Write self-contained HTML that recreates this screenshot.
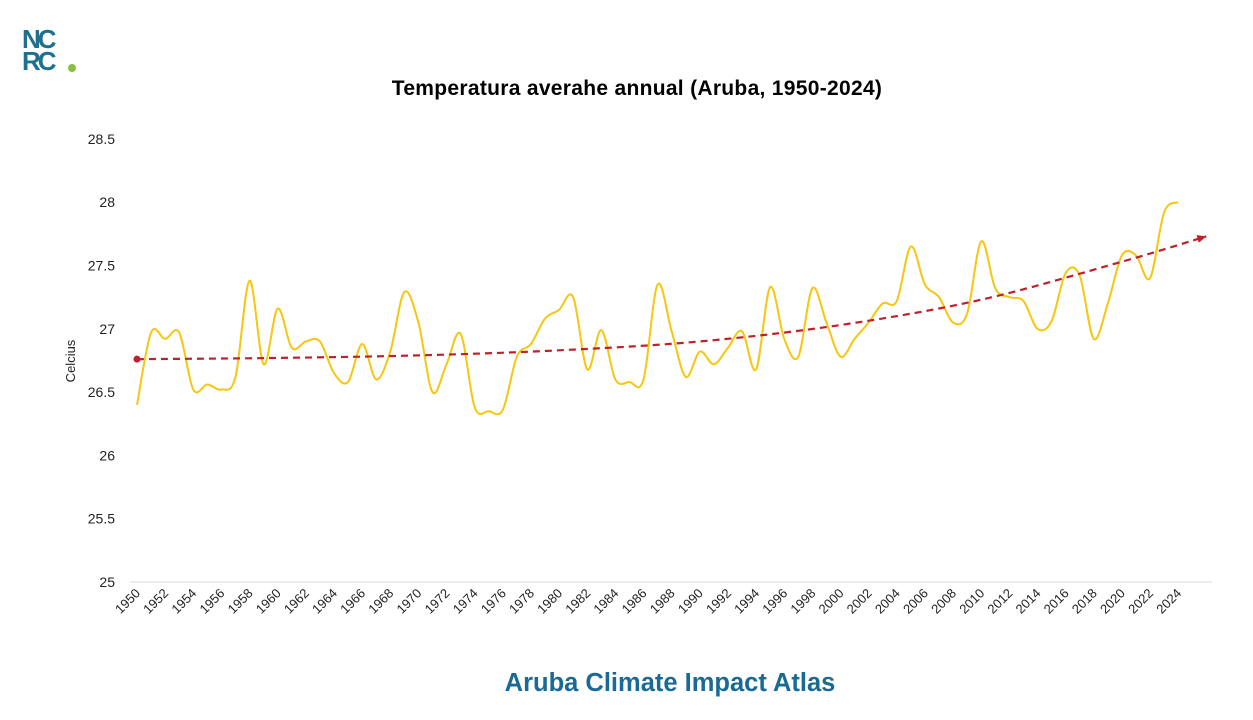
<!DOCTYPE html>
<html><head><meta charset="utf-8"><style>
body{margin:0;background:#fff;font-family:"Liberation Sans",sans-serif}
#wrap{position:relative;width:1253px;height:720px;overflow:hidden}
</style></head><body>
<div id="wrap">
<svg id="chart" width="1253" height="720">
<g>
<text x="22" y="48" font-size="26" font-weight="bold" fill="#1f6f8f" font-family="Liberation Sans,sans-serif" letter-spacing="-3">NC</text>
<text x="22" y="70" font-size="26" font-weight="bold" fill="#1f6f8f" font-family="Liberation Sans,sans-serif" letter-spacing="-3">RC</text>
<circle cx="72" cy="68" r="4" fill="#8cbf3f"/>
</g>
<text x="637" y="95" text-anchor="middle" font-size="21" font-weight="bold" fill="#000" letter-spacing="0.3">Temperatura averahe annual (Aruba, 1950-2024)</text>
<text x="0" y="0" transform="translate(75,361) rotate(-90)" text-anchor="middle" font-size="13" fill="#222">Celcius</text>
<text x="670" y="691" text-anchor="middle" font-size="25.5" font-weight="bold" fill="#1a6a96">Aruba Climate Impact Atlas</text>
<g id="axes"></g><g id="marks"></g>
</svg>
</div>
<script>
const years = [];for(let y=1950;y<=2024;y++)years.push(y);
const temps = [26.4,26.97,26.92,26.97,26.52,26.56,26.52,26.62,27.38,26.72,27.16,26.85,26.9,26.9,26.65,26.58,26.88,26.6,26.82,27.29,27.05,26.5,26.72,26.96,26.38,26.35,26.36,26.78,26.88,27.08,27.15,27.25,26.68,26.99,26.6,26.58,26.6,27.35,26.98,26.62,26.82,26.72,26.85,26.98,26.68,27.33,26.92,26.78,27.32,27.05,26.78,26.92,27.05,27.2,27.22,27.65,27.35,27.25,27.05,27.12,27.69,27.32,27.25,27.22,27.0,27.06,27.44,27.42,26.92,27.2,27.58,27.58,27.4,27.92,28.0];
const trendYears = [1950,1960,1970,1980,1990,2000,2010,2020,2026];
const trendValues = [26.76,26.77,26.79,26.83,26.9,27.03,27.23,27.53,27.73];
const yTicks = [25,25.5,26,26.5,27,27.5,28,28.5];
const NS="http://www.w3.org/2000/svg";
function xS(yr){return 137+(yr-1950)*14.07;}
function yS(v){return 582-(v-25)*126.6;}
const axes=document.getElementById('axes'),marks=document.getElementById('marks');
function mk(t,a,p){const e=document.createElementNS(NS,t);for(const k in a)e.setAttribute(k,a[k]);p.appendChild(e);return e;}
const base=mk('line',{x1:130,x2:1212,y1:582,y2:582,stroke:'#d9d9d9','stroke-width':1},axes);


yTicks.forEach(v=>{const t=mk('text',{x:115,y:yS(v)+5,'text-anchor':'end','font-size':14,fill:'#222'},axes);t.textContent=String(v);

});
years.forEach(yr=>{if((yr-1950)%2)return;const x=xS(yr)+4,y=594;
const t=mk('text',{x:x,y:y,'text-anchor':'end','font-size':13,fill:'#222',transform:`rotate(-45 ${x} ${y})`},axes);t.textContent=String(yr);

});
function smooth(pts){let d=`M${pts[0][0]},${pts[0][1]}`;
for(let i=0;i<pts.length-1;i++){const p0=pts[Math.max(0,i-1)],p1=pts[i],p2=pts[i+1],p3=pts[Math.min(pts.length-1,i+2)];
d+=` C${p1[0]+(p2[0]-p0[0])/6},${p1[1]+(p2[1]-p0[1])/6} ${p2[0]-(p3[0]-p1[0])/6},${p2[1]-(p3[1]-p1[1])/6} ${p2[0]},${p2[1]}`;}return d;}
const line=mk('path',{d:smooth(years.map((yr,i)=>[xS(yr),yS(temps[i])])),fill:'none',stroke:'#f7c60e','stroke-width':2},marks);


const tpts=trendYears.map((yr,i)=>[xS(yr),yS(trendValues[i])]);
const tl=mk('path',{d:smooth(tpts),fill:'none',stroke:'#c0202a','stroke-width':2.2,'stroke-dasharray':'7,5'},marks);


const dot=mk('circle',{cx:tpts[0][0],cy:tpts[0][1],r:3.5,fill:'#c0202a'},marks);


const [ex,ey]=tpts[tpts.length-1],[px,py]=tpts[tpts.length-2];const ang=Math.atan2(ey-py,ex-px);
const ar=mk('polygon',{points:`${ex},${ey} ${ex-9*Math.cos(ang)+4*Math.sin(ang)},${ey-9*Math.sin(ang)-4*Math.cos(ang)} ${ex-9*Math.cos(ang)-4*Math.sin(ang)},${ey-9*Math.sin(ang)+4*Math.cos(ang)}`,fill:'#c0202a'},marks);


</script>
</body></html>
